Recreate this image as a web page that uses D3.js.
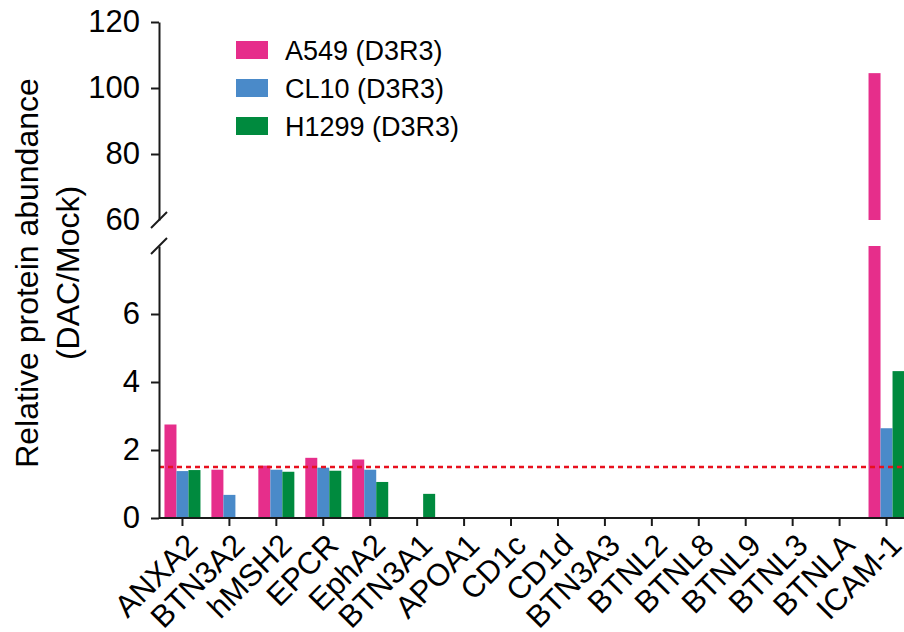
<!DOCTYPE html>
<html>
<head>
<meta charset="utf-8">
<script src="https://cdn.jsdelivr.net/npm/d3@7"></script>
<style>
  html, body { margin: 0; padding: 0; background: #fff; }
  svg { display: block; font-family: "Liberation Sans", Arial, sans-serif; }
</style>
</head>
<body>
<svg id="chart" width="904" height="632"></svg>
<script>
const categories = ["ANXA2","BTN3A2","hMSH2","EPCR","EphA2","BTN3A1","APOA1","CD1c","CD1d","BTN3A3","BTNL2","BTNL8","BTNL9","BTNL3","BTNLA","ICAM-1"];
const seriesNames = ["A549 (D3R3)", "CL10 (D3R3)", "H1299 (D3R3)"];
const a549  = [2.75, 1.42, 1.54, 1.77, 1.72, 0, 0, 0, 0, 0, 0, 0, 0, 0, 0, 104.5];
const cl10  = [1.38, 0.68, 1.42, 1.48, 1.42, 0, 0, 0, 0, 0, 0, 0, 0, 0, 0, 2.64];
const h1299 = [1.41, 0, 1.36, 1.39, 1.06, 0.71, 0, 0, 0, 0, 0, 0, 0, 0, 0, 4.32];
const lowerTicks = [0, 2, 4, 6];
const upperTicks = [60, 80, 100, 120];
const lowerDomain = [0, 8];
const upperDomain = [60, 120];
const threshold = 1.5;
const colors = ["#E62E8B", "#4A8AC9", "#008A3E"];

const series = [a549, cl10, h1299];
const svg = d3.select("#chart");
const axisX = 159;
const fontMain = 31;

const x0 = d3.scaleBand().domain(categories).range([axisX, 910]).paddingInner(0.233).paddingOuter(0.1165);
const x1 = d3.scaleBand().domain(d3.range(seriesNames.length)).range([0, x0.bandwidth()]);
const yLow = d3.scaleLinear().domain(lowerDomain).range([518, 246]);
const yUp = d3.scaleLinear().domain(upperDomain).range([220, 22]);

// bars
const g = svg.append("g");
categories.forEach((c, i) => {
  series.forEach((s, k) => {
    const v = s[i];
    if (v <= 0) return;
    const bx = x0(c) + x1(k);
    const vLow = Math.min(v, lowerDomain[1]);
    g.append("rect")
      .attr("x", bx).attr("width", x1.bandwidth())
      .attr("y", yLow(vLow)).attr("height", yLow(0) - yLow(vLow))
      .attr("fill", colors[k]);
    if (v > upperDomain[0]) {
      g.append("rect")
        .attr("x", bx).attr("width", x1.bandwidth())
        .attr("y", yUp(v)).attr("height", yUp(upperDomain[0]) - yUp(v))
        .attr("fill", colors[k]);
    }
  });
});

// threshold line
svg.append("line")
  .attr("x1", axisX).attr("x2", 904)
  .attr("y1", yLow(threshold)).attr("y2", yLow(threshold))
  .attr("stroke", "#E8101E").attr("stroke-width", 2.5)
  .attr("stroke-dasharray", "5,4");

// y axes
function styleAxis(sel) {
  sel.selectAll("path.domain").attr("stroke", "#1a1a1a").attr("stroke-width", 2);
  sel.selectAll(".tick line").attr("stroke", "#1a1a1a").attr("stroke-width", 2);
  sel.selectAll(".tick text").attr("font-size", fontMain).attr("fill", "#000")
    .attr("font-family", "'Liberation Sans', Arial, sans-serif");
}
const gLow = svg.append("g").attr("transform", `translate(${axisX},0)`)
  .call(d3.axisLeft(yLow).tickValues(lowerTicks).tickSize(8).tickSizeOuter(0).tickPadding(11).tickFormat(d3.format("d")));
styleAxis(gLow);
const gUp = svg.append("g").attr("transform", `translate(${axisX},0)`)
  .call(d3.axisLeft(yUp).tickValues(upperTicks).tickSize(8).tickSizeOuter(0).tickPadding(11).tickFormat(d3.format("d")));
styleAxis(gUp);
gUp.selectAll(".tick").filter(d => d === upperDomain[0]).select("line").remove();

// break marks
[yUp(upperDomain[0]), yLow(lowerDomain[1])].forEach(yy => {
  svg.append("line")
    .attr("x1", axisX - 8).attr("y1", yy + 8)
    .attr("x2", axisX + 8).attr("y2", yy - 8)
    .attr("stroke", "#1a1a1a").attr("stroke-width", 2);
});

// x axis
const gx = svg.append("g").attr("transform", `translate(0,${yLow(0)})`)
  .call(d3.axisBottom(x0).tickSize(8).tickSizeOuter(0));
gx.selectAll("path.domain").attr("stroke", "#1a1a1a").attr("stroke-width", 2)
  .attr("d", `M${axisX},0H904`);
gx.selectAll(".tick line").attr("stroke", "#1a1a1a").attr("stroke-width", 2);
gx.selectAll(".tick text").remove();
gx.selectAll(".tick").append("text")
  .attr("transform", "translate(17,29) rotate(-45)")
  .attr("text-anchor", "end")
  .attr("fill", "#000")
  .attr("font-size", fontMain)
  .attr("font-family", "'Liberation Sans', Arial, sans-serif")
  .text(d => d);

// y title
const title = svg.append("text")
  .attr("transform", "translate(0,273) rotate(-90)")
  .attr("text-anchor", "middle")
  .attr("font-size", 32)
  .attr("fill", "#000");
title.append("tspan").attr("x", 0).attr("y", 38).text("Relative protein abundance");
title.append("tspan").attr("x", 0).attr("y", 79).text("(DAC/Mock)");

// legend
const leg = svg.append("g");
seriesNames.forEach((n, k) => {
  const cy = 50 + k * 38;
  leg.append("rect").attr("x", 236).attr("y", cy - 9).attr("width", 32).attr("height", 18).attr("fill", colors[k]);
  leg.append("text").attr("x", 285).attr("y", cy + 9.5).attr("font-size", 27).attr("fill", "#000").text(n);
});
</script>
</body>
</html>
